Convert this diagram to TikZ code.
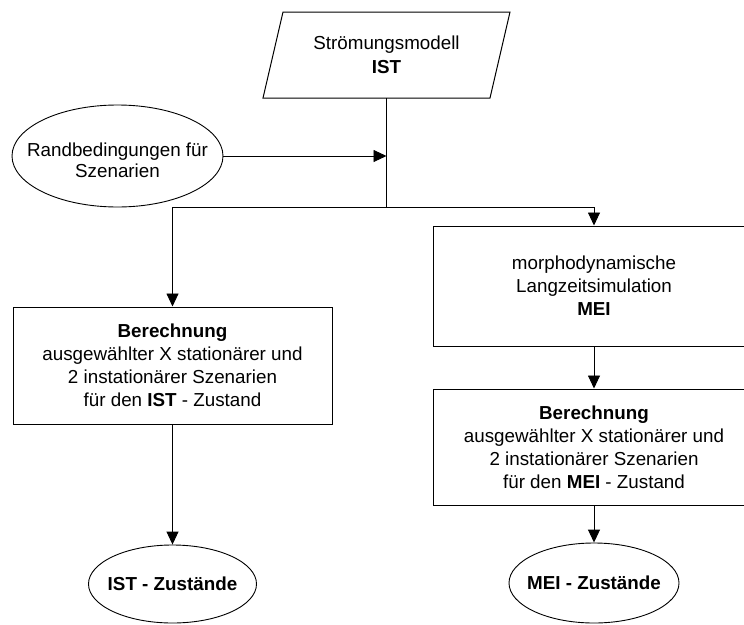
\documentclass[tikz,border=0pt]{standalone}
\usepackage{fontspec}
\setmainfont{Liberation Sans}
\usetikzlibrary{arrows.meta,shapes.geometric}
\begin{document}
\begin{tikzpicture}[x=1pt,y=-1pt,
  every node/.style={font=\fontsize{18.8}{23}\selectfont, align=center},
  boxnode/.style={draw, line width=1pt, rectangle, inner sep=0pt},
  ellnode/.style={draw, line width=0.9pt, ellipse, inner sep=0pt},
  conn/.style={line width=0.9pt},
  arr/.style={conn, -{Triangle[length=13pt,width=12pt]}}]
\clip (0,0) rectangle (744,624);
% parallelogram
\draw[line width=1pt] (283,12) -- (510,12) -- (490,98) -- (263,98) -- cycle;
\node[minimum width=247pt, minimum height=86pt, inner sep=0pt] (par) at (386.5,55) {Strömungsmodell\\[1pt]\textbf{IST}};
\node[ellnode, minimum width=211pt, minimum height=102pt] (rand) at (117.5,156) {};
\node (randtxt) at (117.5,160) {Randbedingungen für\\[-2pt]Szenarien};
\coordinate (J) at (386.5,207);
\coordinate (m) at (386.5,156);
\node[boxnode, minimum width=319pt, minimum height=117pt] (b1) at (172.5,365.5)
  {\textbf{Berechnung}\\ausgewählter X stationärer und\\2 instationärer Szenarien\\für den \textbf{IST} - Zustand};
\node[boxnode, minimum width=322pt, minimum height=120pt] (mei) at (594,286)
  {morphodynamische\\Langzeitsimulation\\\textbf{MEI}};
\node[boxnode, minimum width=322pt, minimum height=116pt] (b2) at (594,447)
  {\textbf{Berechnung}\\ausgewählter X stationärer und\\2 instationärer Szenarien\\für den \textbf{MEI} - Zustand};
\node[ellnode, minimum width=168pt, minimum height=78pt] (ist) at (172.5,584) {};
\node (isttxt) at (ist) {\textbf{IST - Zustände}};
\node[ellnode, minimum width=170pt, minimum height=80pt] (meiz) at (594,583) {};
\node (meiztxt) at (meiz) {\textbf{MEI - Zustände}};
% connectors
\draw[conn] (par.south) -- (J);
\draw[arr] (rand.east) -- (m);
\draw[arr] (J) -| (b1.north);
\draw[arr] (J) -| (mei.north);
\draw[arr] (mei) -- (b2);
\draw[arr] (b1) -- (ist);
\draw[arr] (b2) -- (meiz);
\end{tikzpicture}
\end{document}
